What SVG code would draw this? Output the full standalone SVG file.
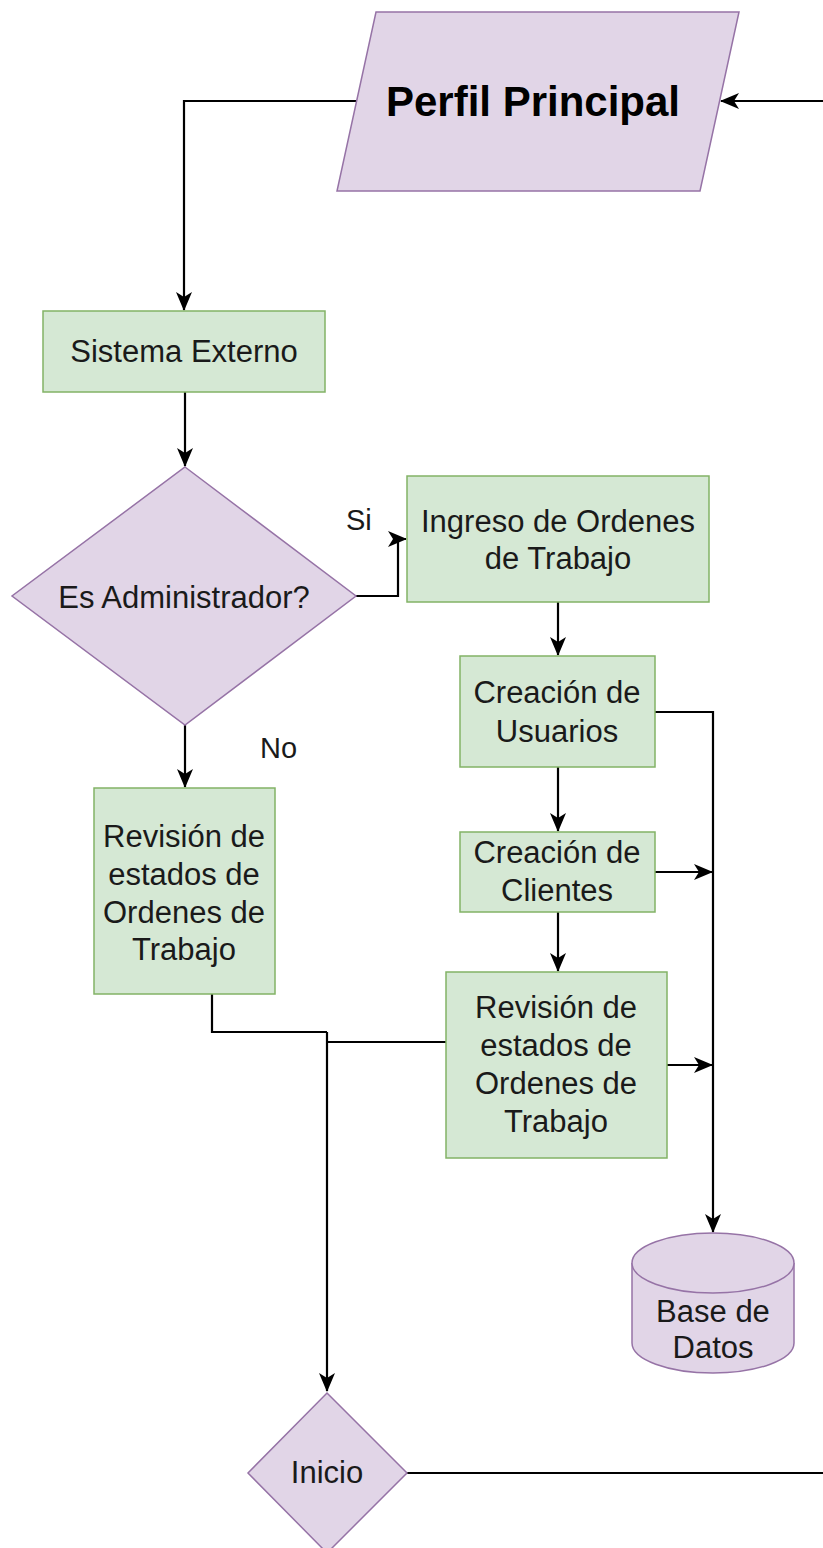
<svg xmlns="http://www.w3.org/2000/svg" width="823" height="1548" viewBox="0 0 823 1548">
<style>
.purple{fill:#e1d5e7;stroke:#9673a6;stroke-width:1.5}
.green{fill:#d5e8d4;stroke:#82b366;stroke-width:1.5}
.t{font-family:"Liberation Sans",Arial,sans-serif;font-size:31px;fill:#1a1a1a;text-anchor:middle}
.lbl{font-family:"Liberation Sans",Arial,sans-serif;font-size:29px;fill:#1a1a1a}
.edge{fill:none;stroke:#000;stroke-width:2.2}
.arr{marker-end:url(#ah)}
</style>
<defs>
<marker id="ah" markerUnits="userSpaceOnUse" markerWidth="20" markerHeight="20" viewBox="0 0 20 20" refX="18" refY="10" orient="auto">
<path d="M0,2 L19,10 L0,18 L5,10 z" fill="#000"/>
</marker>
</defs>
<rect width="823" height="1548" fill="#fff"/>
<g id="connectors">
<path class="edge arr" d="M357,101 L184,101 L184,310"/>
<path class="edge arr" d="M823,101 L721,101"/>
<path class="edge arr" d="M185,392 L185,466"/>
<path class="edge arr" d="M355,596 L398,596 L398,539 L406,539"/>
<path class="edge arr" d="M185,725 L185,787"/>
<path class="edge arr" d="M558,602 L558,655"/>
<path class="edge arr" d="M558,767 L558,831"/>
<path class="edge arr" d="M558,912 L558,971"/>
<path class="edge arr" d="M655,712 L713,712 L713,1232"/>
<path class="edge arr" d="M655,872 L712,872"/>
<path class="edge arr" d="M667,1065 L712,1065"/>
<path class="edge" d="M212,994 L212,1032 L327,1032"/>
<path class="edge" d="M446,1042 L327,1042"/>
<path class="edge arr" d="M327,1032 L327,1391"/>
<path class="edge" d="M407,1473 L823,1473"/>
</g>
<g id="perfil">
<polygon class="purple" points="376,12 739,12 700,191 337,191"/>
<text x="533" y="116" style="font-family:'Liberation Sans',Arial,sans-serif;font-size:42px;font-weight:bold;fill:#000;text-anchor:middle">Perfil Principal</text>
</g>
<g id="sistema">
<rect class="green" x="43" y="311" width="282" height="81"/>
<text class="t" x="184" y="362">Sistema Externo</text>
</g>
<g id="esadmin">
<polygon class="purple" points="185,467 356,596 185,725 12,596"/>
<text class="t" x="184" y="608">Es Administrador?</text>
</g>
<g id="lbl-si"><text class="lbl" x="346" y="530">Si</text></g>
<g id="lbl-no"><text class="lbl" x="260" y="758">No</text></g>
<g id="ingreso">
<rect class="green" x="407" y="476" width="302" height="126"/>
<text class="t" x="558" y="532">Ingreso de Ordenes</text>
<text class="t" x="558" y="569">de Trabajo</text>
</g>
<g id="usuarios">
<rect class="green" x="460" y="656" width="195" height="111"/>
<text class="t" x="557" y="703">Creación de</text>
<text class="t" x="557" y="742">Usuarios</text>
</g>
<g id="clientes">
<rect class="green" x="460" y="832" width="195" height="80"/>
<text class="t" x="557" y="863">Creación de</text>
<text class="t" x="557" y="901">Clientes</text>
</g>
<g id="revision-left">
<rect class="green" x="94" y="788" width="181" height="206"/>
<text class="t" x="184" y="847">Revisión de</text>
<text class="t" x="184" y="885">estados de</text>
<text class="t" x="184" y="923">Ordenes de</text>
<text class="t" x="184" y="960">Trabajo</text>
</g>
<g id="revision-right">
<rect class="green" x="446" y="972" width="221" height="186"/>
<text class="t" x="556" y="1018">Revisión de</text>
<text class="t" x="556" y="1056">estados de</text>
<text class="t" x="556" y="1094">Ordenes de</text>
<text class="t" x="556" y="1132">Trabajo</text>
</g>
<g id="basedatos">
<path class="purple" d="M632,1263 A81,30 0 0 1 794,1263 L794,1343 A81,30 0 0 1 632,1343 Z"/>
<path class="purple" d="M632,1263 A81,30 0 0 0 794,1263" fill="none"/>
<text class="t" x="713" y="1322">Base de</text>
<text class="t" x="713" y="1358">Datos</text>
</g>
<g id="inicio">
<polygon class="purple" points="327,1393 407,1473 327,1553 248,1473"/>
<text class="t" x="327" y="1483">Inicio</text>
</g>
</svg>
